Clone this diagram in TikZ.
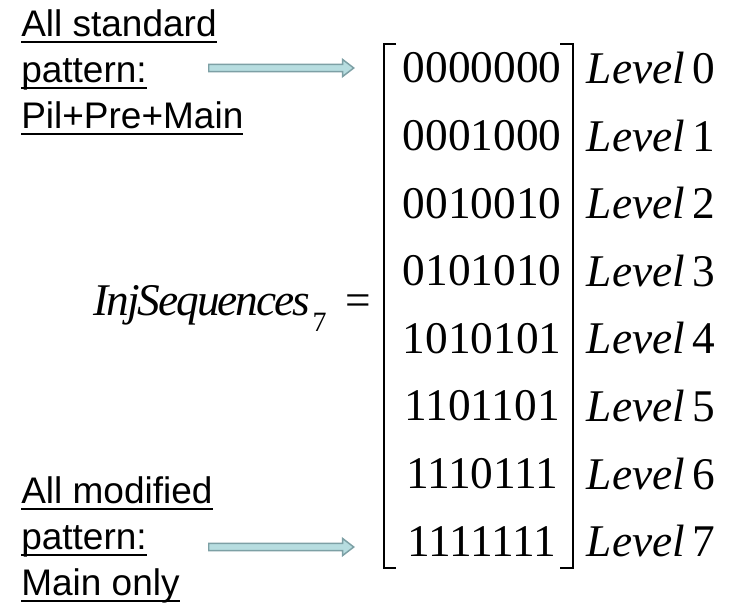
\documentclass[tikz,border=0pt]{standalone}
\usepackage{fontspec}
\setmainfont{Liberation Serif}
\newfontfamily\notefont{Liberation Sans}
\usetikzlibrary{shapes.arrows}

\definecolor{arrowfill}{RGB}{183,221,224}
\definecolor{arrowline}{RGB}{125,160,165}

% underline at a fixed depth, whatever the letters
\newlength\notewd
\newcommand\noteul[1]{\settowidth{\notewd}{#1}\rlap{\rule[-5.2pt]{\notewd}{1.4pt}}#1}

\begin{document}
\begin{tikzpicture}[x=0.75pt, y=-0.75pt,
        bits/.style={font=\fontsize{34}{34}\selectfont, inner sep=0pt},
        lvl/.style={font=\fontsize{34}{34}\selectfont, inner sep=0pt},
        lhs/.style={font=\fontsize{34}{34}\selectfont, inner sep=0pt, anchor=base east},
        note/.style={font=\notefont\fontsize{27.75}{34.5}\selectfont,
                     align=left, inner sep=0pt, anchor=base west},
        blockarrow/.style={single arrow, draw=arrowline, fill=arrowfill, line width=1.1pt,
                     minimum height=108.75pt, inner xsep=0pt, inner ysep=2.1pt,
                     single arrow head extend=3.8pt, single arrow head indent=0pt,
                     single arrow tip angle=75, anchor=tail},
        brk/.style={line width=1.2pt}
    ]
        \useasboundingbox (0,0) rectangle (734,603);

        % ── Rows of the matrix and their levels ──────────────────────────
        \foreach \code [count=\i from 0] in
            {0000000,0001000,0010010,0101010,1010101,1101101,1110111,1111111}
        {
            \node[bits] (row\i) at (482, {68+67.6*\i}) {\code};
            \node[lvl]  (lvl\i) at (651, {68+67.6*\i}) {\textit{Level}\,\i};
        }

        % ── Brackets ─────────────────────────────────────────────────────
        \draw[brk] (396,44) -- (384,44) -- (384,568) -- (396,568);
        \draw[brk] (560,44) -- (573,44) -- (573,568) -- (560,568);

        % left-hand side
        \node[lhs] (lhs) at (371,315)
            {{\addfontfeatures{LetterSpace=-4.4}\textit{InjSequences}}\hspace{3pt}%
             \raisebox{-12pt}{\fontsize{21}{21}\selectfont 7}\hspace{14pt}=};

        % ── Notes with arrows to first and last row (base = last line) ───
        \node[note] (stdnote) at (21,128) {\noteul{All standard}\\\noteul{pattern:}\\\noteul{Pil+Pre+Main}};
        \node[note] (modnote) at (21,595) {\noteul{All modified}\\\noteul{pattern:}\\\noteul{Main only}};

        \node[blockarrow] (stdarrow) at (208,68) {};
        \node[blockarrow] (modarrow) at (208,547) {};

    \end{tikzpicture}
\end{document}
